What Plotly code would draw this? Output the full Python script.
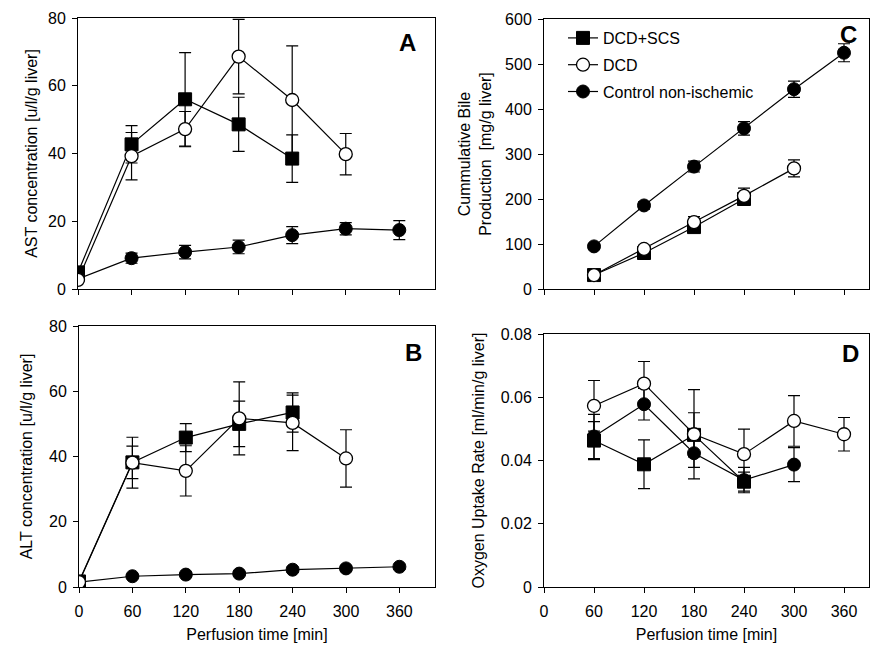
import plotly.graph_objects as go

# ---------------- data ----------------
time_all = [0, 60, 120, 180, 240, 300, 360]
time_c = [60, 120, 180, 240, 300, 360]

series_names = ["DCD+SCS", "DCD", "Control non-ischemic"]

# Panel A: AST
ast_scs = [4.9, 42.7, 56.0, 48.6, 38.5]
ast_scs_err = [1.0, 5.5, 13.8, 8.0, 7.0]
ast_dcd = [2.7, 39.2, 47.2, 68.6, 55.8, 39.8]
ast_dcd_err = [0.5, 7.0, 5.2, 11.0, 16.0, 6.1]
ast_ctrl = [3.0, 9.1, 10.9, 12.4, 15.9, 17.8, 17.4]
ast_ctrl_err = [0.5, 1.5, 2.0, 2.0, 2.5, 1.8, 2.8]

# Panel B: ALT
alt_scs = [1.7, 38.2, 45.8, 50.0, 53.5]
alt_scs_err = [0.5, 5.0, 4.3, 7.0, 6.0]
alt_dcd = [1.5, 38.1, 35.6, 51.7, 50.3, 39.4]
alt_dcd_err = [0.5, 7.8, 7.7, 11.2, 8.5, 8.8]
alt_ctrl = [1.5, 3.3, 3.8, 4.1, 5.3, 5.7, 6.2]
alt_ctrl_err = [0.3, 0.5, 0.6, 0.6, 0.8, 0.8, 0.8]

# Panel C: cumulative bile
bile_scs = [31, 80, 137.6, 200]
bile_scs_err = [4, 5, 8, 10]
bile_dcd = [31, 89, 148.7, 207, 268]
bile_dcd_err = [5, 8, 12, 17, 19]
bile_ctrl = [94.7, 185.7, 272, 357, 444, 525]
bile_ctrl_err = [6, 8, 12, 15, 18, 20]

# Panel D: oxygen uptake
o2_scs = [0.0463, 0.0388, 0.0481, 0.0333]
o2_scs_err = [0.006, 0.0077, 0.007, 0.003]
o2_dcd = [0.0573, 0.0643, 0.0483, 0.042, 0.0525, 0.0483]
o2_dcd_err = [0.008, 0.007, 0.0141, 0.0079, 0.008, 0.0053]
o2_ctrl = [0.0476, 0.0578, 0.0423, 0.0338, 0.0387]
o2_ctrl_err = [0.007, 0.005, 0.0045, 0.004, 0.0054]

x_ticks = [0, 60, 120, 180, 240, 300, 360]
y_ticks_ab = [0, 20, 40, 60, 80]
y_ticks_c = [0, 100, 200, 300, 400, 500, 600]
y_ticks_d = [0, 0.02, 0.04, 0.06, 0.08]
y_ticktext_d = ["0", "0.02", "0.04", "0.06", "0.08"]

# ---------------- styling ----------------
FONT = "Liberation Sans, Arial, sans-serif"
styles = {
    "DCD+SCS": dict(symbol="square", color="black", line=dict(color="black", width=1)),
    "DCD": dict(symbol="circle", color="white", line=dict(color="black", width=1.3)),
    "Control non-ischemic": dict(symbol="circle", color="black", line=dict(color="black", width=1)),
}
rank = {"DCD+SCS": 1, "DCD": 2, "Control non-ischemic": 3}

fig = go.Figure()


def add(name, x, y, err, xa, ya, show):
    fig.add_trace(go.Scatter(
        x=x, y=y, name=name, mode="lines+markers",
        xaxis=xa, yaxis=ya,
        line=dict(color="black", width=1.2),
        marker=dict(size=13, **styles[name]),
        error_y=dict(type="data", array=err, visible=True, color="black",
                     thickness=1.2, width=6),
        legendgroup=name, showlegend=show, legendrank=rank[name],
        cliponaxis=True,
    ))


# drawing order: control, DCD+SCS, DCD (open circles on top)
panels = [
    ("x", "y", time_all, ast_ctrl, ast_ctrl_err, ast_scs, ast_scs_err, ast_dcd, ast_dcd_err, False),
    ("x2", "y2", time_all, alt_ctrl, alt_ctrl_err, alt_scs, alt_scs_err, alt_dcd, alt_dcd_err, False),
    ("x3", "y3", time_c, bile_ctrl, bile_ctrl_err, bile_scs, bile_scs_err, bile_dcd, bile_dcd_err, True),
    ("x4", "y4", time_c, o2_ctrl, o2_ctrl_err, o2_scs, o2_scs_err, o2_dcd, o2_dcd_err, False),
]
for xa, ya, tx, yc, ec, ys, es, yd, ed, show in panels:
    add("Control non-ischemic", tx[:len(yc)], yc, ec, xa, ya, show)
    add("DCD+SCS", tx[:len(ys)], ys, es, xa, ya, show)
    add("DCD", tx[:len(yd)], yd, ed, xa, ya, show)

W, H = 890, 660
OFF = 8  # page body margin of the browser


def px_x(a, b):
    return [(a - OFF) / W, (b - OFF) / W]


def px_y(top, bottom):
    return [1 - (bottom - OFF) / H, 1 - (top - OFF) / H]


axis_common = dict(
    showline=True, linecolor="black", linewidth=1, mirror=True,
    ticks="outside", ticklen=5, tickcolor="black", tickwidth=1,
    showgrid=False, zeroline=False, automargin=False,
    tickfont=dict(family=FONT, size=16, color="black"),
)
x_common = dict(axis_common, ticklabelstandoff=5)
y_common = dict(axis_common, ticklabelstandoff=3)
title_font = dict(family=FONT, size=16, color="black")

fig.update_layout(
    width=W, height=H,
    paper_bgcolor="white", plot_bgcolor="white",
    margin=dict(l=0, r=0, t=0, b=0, autoexpand=False),
    font=dict(family=FONT, color="black"),
    showlegend=True,
    legend=dict(x=(563 - OFF) / W, y=1 - (21 - OFF) / H, xanchor="left", yanchor="top",
                font=dict(family=FONT, size=16, color="black"),
                bgcolor="rgba(0,0,0,0)", tracegroupgap=3, itemwidth=30),
    xaxis=dict(domain=px_x(78, 435), range=[0, 400], tickvals=x_ticks,
               showticklabels=False, anchor="y", **x_common),
    yaxis=dict(domain=px_y(18, 289), range=[0, 80], tickvals=y_ticks_ab, anchor="x",
               title=dict(text="AST concentration [u/l/g liver]", font=title_font, standoff=6),
               **y_common),
    xaxis2=dict(domain=px_x(79, 435), range=[0, 400], tickvals=x_ticks, anchor="y2",
                title=dict(text="Perfusion time [min]", font=title_font, standoff=9),
                **x_common),
    yaxis2=dict(domain=px_y(326, 587), range=[0, 80], tickvals=y_ticks_ab, anchor="x2",
                title=dict(text="ALT concentration [u/l/g liver]", font=title_font, standoff=12),
                **y_common),
    xaxis3=dict(domain=px_x(544, 869), range=[0, 390], tickvals=x_ticks,
                showticklabels=False, anchor="y3", **x_common),
    yaxis3=dict(domain=px_y(19, 289), range=[0, 600], tickvals=y_ticks_c, anchor="x3",
                title=dict(text="Cummulative Bile<br>Production  [mg/g liver]", font=title_font, standoff=9),
                **y_common),
    xaxis4=dict(domain=px_x(544, 869), range=[0, 390], tickvals=x_ticks, anchor="y4",
                title=dict(text="Perfusion time [min]", font=title_font, standoff=9),
                **x_common),
    yaxis4=dict(domain=px_y(334, 587), range=[0, 0.08], tickvals=y_ticks_d,
                ticktext=y_ticktext_d, anchor="x4",
                title=dict(text="Oxygen Uptake Rate [ml/min/g liver]", font=title_font, standoff=12),
                **y_common),
)

letters = [("A", 407, 43), ("B", 413, 352), ("C", 848, 35), ("D", 850, 353)]
for txt, lx, ly in letters:
    fig.add_annotation(text=f"<b>{txt}</b>", x=(lx - OFF) / W, y=1 - (ly - OFF) / H,
                       xref="paper", yref="paper", xanchor="center", yanchor="middle",
                       showarrow=False, font=dict(family=FONT, size=24, color="black"))

fig.write_html("out.html")
